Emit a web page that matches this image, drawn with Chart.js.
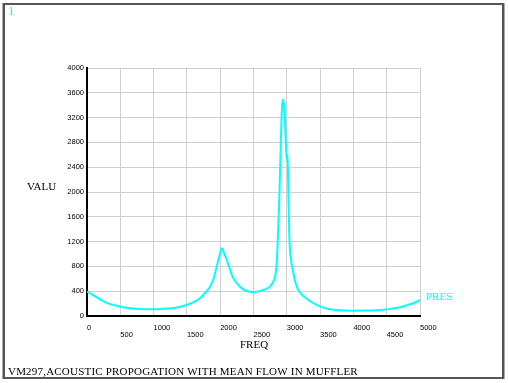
<!DOCTYPE html>
<html>
<head>
<meta charset="utf-8">
<script src="https://cdn.jsdelivr.net/npm/chart.js@4/dist/chart.umd.min.js"></script>
<style>
html,body{margin:0;padding:0;background:#fff;}
#wrap{position:relative;width:508px;height:383px;}
</style>
</head>
<body>
<div id="wrap"><canvas id="c" width="508" height="383"></canvas></div>
<script>
const freq = [0,80,170,296,446,545,650,796,946,1096,1200,1300,1400,1497,1600,1697,1770,1847,1900,1947,1990,2023,2060,2098,2150,2197,2250,2297,2350,2398,2450,2497,2550,2600,2647,2700,2748,2790,2823,2845,2860,2885,2905,2925,2938,2955,2970,2985,3000,3012,3025,3040,3065,3098,3130,3173,3240,3323,3450,3550,3649,3800,3999,4200,4399,4550,4700,4850,4950,5000];
const pres = [392,345,285,212,165,142,126,114,110,113,120,130,150,178,225,286,370,473,600,796,980,1093,1010,904,740,609,530,473,430,404,392,388,393,405,420,443,473,540,635,800,1100,1800,2600,3300,3490,3420,3250,2800,2500,2600,1900,1230,900,694,540,420,330,258,180,135,108,92,86,88,97,115,140,189,230,258];
const xTicks = [0,500,1000,1500,2000,2500,3000,3500,4000,4500,5000];
const yTicks = [0,400,800,1200,1600,2000,2400,2800,3200,3600,4000];
const yTitle = "VALU";
const xTitle = "FREQ";
const seriesName = "PRES";
const winNum = "1";
const caption = "VM297,ACOUSTIC PROPOGATION WITH MEAN FLOW IN MUFFLER";

const pts = freq.map((f,i)=>({x:f,y:pres[i]}));
const SERIF = '11px "Liberation Serif", "DejaVu Serif", serif';

const textPlugin = {
  id:'ansysText',
  afterDraw(chart){
    const ctx = chart.ctx;
    const xs = chart.scales.x, ys = chart.scales.y;
    ctx.save();
    // frame
    ctx.strokeStyle = '#555';
    ctx.lineWidth = 2;
    ctx.strokeRect(4,4,499,374);
    ctx.strokeStyle = '#aaa';
    ctx.lineWidth = 1;
    ctx.beginPath();
    ctx.moveTo(2.5,3);ctx.lineTo(2.5,379);
    ctx.moveTo(504.5,3);ctx.lineTo(504.5,379);
    ctx.stroke();
    // y tick labels
    ctx.fillStyle = '#000';
    ctx.font = '7.5px "Liberation Sans", Arial, sans-serif';
    ctx.textAlign = 'right';
    ctx.textBaseline = 'middle';
    yTicks.forEach(v=>{
      ctx.fillText(String(v), 84, ys.getPixelForValue(v));
    });
    // x tick labels, alternating rows
    ctx.textAlign = 'left';
    xTicks.forEach((v,i)=>{
      const y = (i%2===0) ? 327.5 : 334.5;
      ctx.fillText(String(v), xs.getPixelForValue(v), y);
    });
    // titles
    ctx.font = SERIF;
    ctx.textBaseline = 'middle';
    ctx.fillStyle = '#000';
    ctx.fillText(yTitle, 27, 187);
    ctx.fillText(xTitle, 240, 345);
    if ('letterSpacing' in ctx) ctx.letterSpacing = '0.2px';
    ctx.fillText(caption, 8, 372);
    if ('letterSpacing' in ctx) ctx.letterSpacing = '0px';
    ctx.fillStyle = '#00ffff';
    ctx.fillText(seriesName, 426, 297);
    ctx.font = '13px "Liberation Serif", "DejaVu Serif", serif';
    ctx.fillText(winNum, 8, 12);
    ctx.restore();
  }
};

new Chart(document.getElementById('c'), {
  type:'line',
  data:{datasets:[{
    label: seriesName,
    data: pts,
    borderColor:'#00ffff',
    borderWidth:2,
    pointRadius:0,
    fill:false,
    cubicInterpolationMode:'monotone'
  }]},
  options:{
    responsive:false,
    animation:false,
    events:[],
    layout:{padding:{left:87,top:68,right:88,bottom:67}},
    plugins:{legend:{display:false},tooltip:{enabled:false},title:{display:false}},
    scales:{
      x:{
        type:'linear', min:0, max:5000,
        afterBuildTicks: s => { s.ticks = xTicks.map(v=>({value:v})); },
        afterFit: s => { s.height = 0; },
        ticks:{display:false},
        grid:{color:'#cfcfcf', lineWidth:1, drawTicks:false},
        border:{display:true, color:'#000', width:2}
      },
      y:{
        type:'linear', min:0, max:4000,
        afterBuildTicks: s => { s.ticks = yTicks.map(v=>({value:v})); },
        afterFit: s => { s.width = 0; },
        ticks:{display:false},
        grid:{color:'#cfcfcf', lineWidth:1, drawTicks:false},
        border:{display:true, color:'#000', width:2}
      }
    }
  },
  plugins:[textPlugin]
});
</script>
</body>
</html>
